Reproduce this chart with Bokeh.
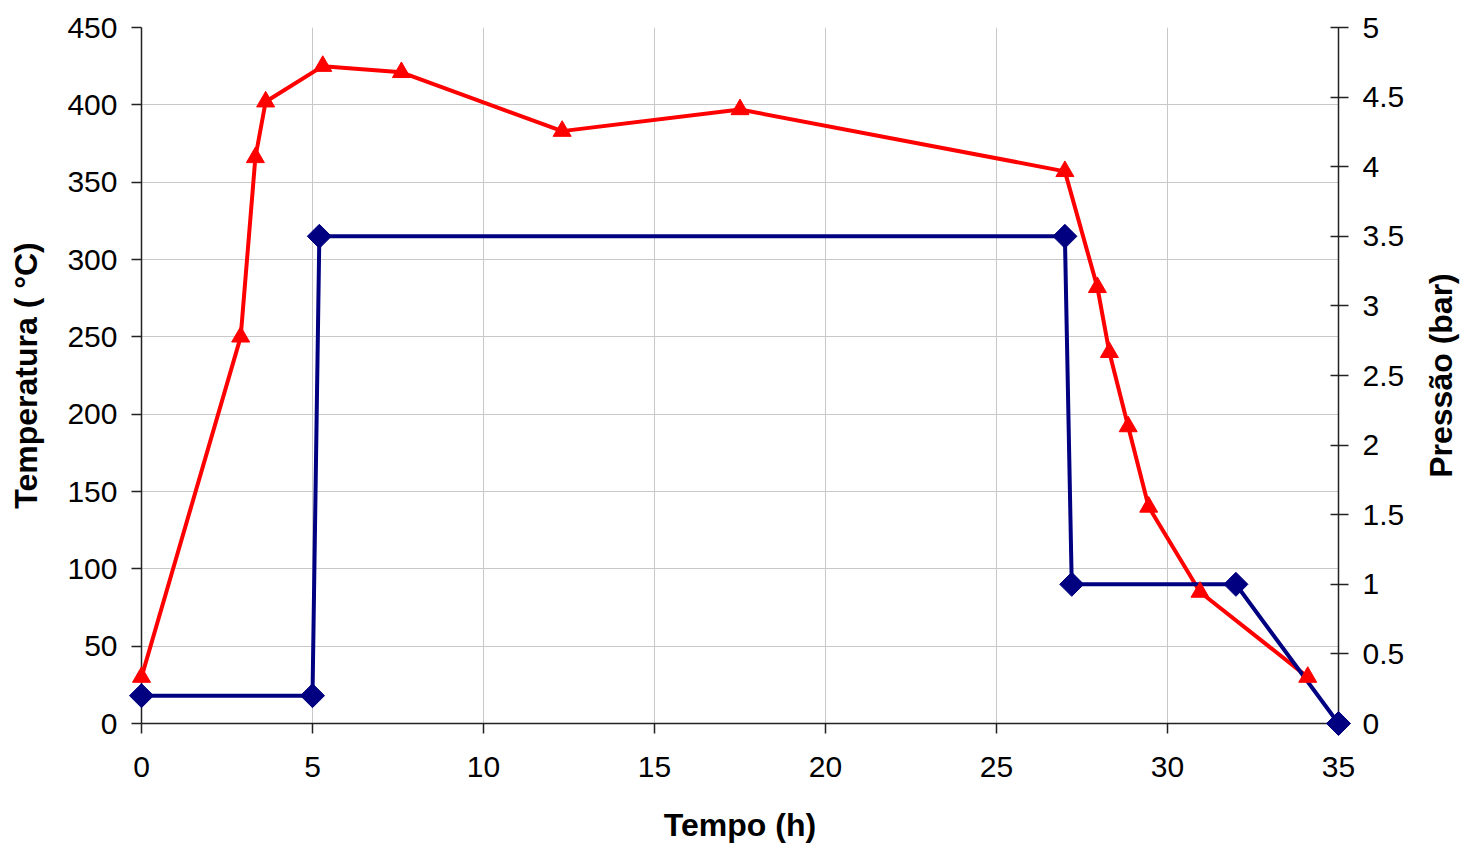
import math
from bokeh.plotting import figure
from bokeh.models import Range1d, LinearAxis, FixedTicker
from bokeh.core.properties import value
from bokeh.embed import file_html
from bokeh.resources import INLINE

# Temperature profile (h, °C)
tempo_temp = [0, 2.9, 3.33, 3.63, 5.3, 7.6, 12.3, 17.5, 27.0, 27.95, 28.3, 28.85, 29.45, 30.95, 34.1]
temperatura = [30, 250, 366, 402, 425, 421, 383, 397, 357, 282, 240, 192, 140, 85, 30]

# Pressure profile (h, bar)
tempo_pres = [0, 5.0, 5.2, 27.0, 27.2, 32.0, 35.0]
pressao = [0.2, 0.2, 3.5, 3.5, 1.0, 1.0, 0.0]

x_ticks = [0, 5, 10, 15, 20, 25, 30, 35]
temp_ticks = [0, 50, 100, 150, 200, 250, 300, 350, 400, 450]
pres_ticks = [0, 0.5, 1, 1.5, 2, 2.5, 3, 3.5, 4, 4.5, 5]
pres_labels = ["0", "0.5", "1", "1.5", "2", "2.5", "3", "3.5", "4", "4.5", "5"]

FONT = "Liberation Sans"
TICK_SIZE = "30px"
TITLE_SIZE = "32px"

p = figure(width=1470, height=849, output_backend="svg", toolbar_location=None,
           x_range=Range1d(0, 35), y_range=Range1d(0, 450),
           min_border_left=141, min_border_right=132, min_border_top=27, min_border_bottom=126)
p.outline_line_color = None
p.background_fill_color = "white"
p.border_fill_color = "white"

p.extra_y_ranges = {"pres": Range1d(0, 5)}

# grid
p.xgrid.ticker = FixedTicker(ticks=x_ticks)
p.ygrid.ticker = FixedTicker(ticks=temp_ticks)
for g in (p.xgrid, p.ygrid):
    g.grid_line_color = "#c8c8c8"
    g.grid_line_width = 1


def style_axis(ax):
    ax.axis_line_color = "#222222"
    ax.axis_line_width = 1.5
    ax.major_tick_line_color = "#222222"
    ax.major_tick_line_width = 1.5
    ax.minor_tick_line_color = None
    ax.major_label_text_font = FONT
    ax.major_label_text_font_size = TICK_SIZE
    ax.major_label_text_color = "black"
    ax.axis_label_text_font = FONT
    ax.axis_label_text_font_size = TITLE_SIZE
    ax.axis_label_text_font_style = "bold"
    ax.axis_label_text_color = "black"


xa = p.xaxis[0]
style_axis(xa)
xa.ticker = FixedTicker(ticks=x_ticks)
xa.axis_label = "Tempo (h)"
xa.major_tick_out = 10
xa.major_tick_in = 0
xa.major_label_standoff = 23
xa.axis_label_standoff = 27

ya = p.yaxis[0]
style_axis(ya)
ya.ticker = FixedTicker(ticks=temp_ticks)
ya.axis_label = "Temperatura ( °C)"
ya.major_tick_out = 10
ya.major_tick_in = 0
ya.major_label_standoff = 14
ya.axis_label_standoff = 20

ra = LinearAxis(y_range_name="pres")
style_axis(ra)
ra.ticker = FixedTicker(ticks=pres_ticks)
ra.major_label_overrides = {t: s for t, s in zip(pres_ticks, pres_labels)}
ra.major_tick_out = 10
ra.major_tick_in = 8
ra.major_label_standoff = 14
p.add_layout(ra, "right")

# right-hand title, reading bottom to top, set just past the pressure tick labels
ttl = p.text(x=[38.0], y=[2.5], text=["Pressão (bar)"], y_range_name="pres",
             angle=math.pi / 2, text_align="center", text_baseline="middle",
             text_font=value(FONT), text_font_size=value(TITLE_SIZE),
             text_font_style="bold", text_color="black")

# temperature series
p.line(tempo_temp, temperatura, line_color="#ff0000", line_width=4)
tri = p.scatter(tempo_temp, temperatura, marker="triangle", size=18,
                fill_color="#ff0000", line_color="#ff0000", line_width=1)

# pressure series
p.line(tempo_pres, pressao, y_range_name="pres", line_color="#000080", line_width=4)
dia = p.scatter(tempo_pres, pressao, y_range_name="pres", marker="square", angle=math.pi / 4,
                size=17, fill_color="#000080", line_color="#000080", line_width=1)

# drawn above the frame so nothing at its edge is cut off
tri.level = "overlay"
dia.level = "overlay"
ttl.level = "overlay"

open("out.html", "w").write(file_html(p, INLINE))
